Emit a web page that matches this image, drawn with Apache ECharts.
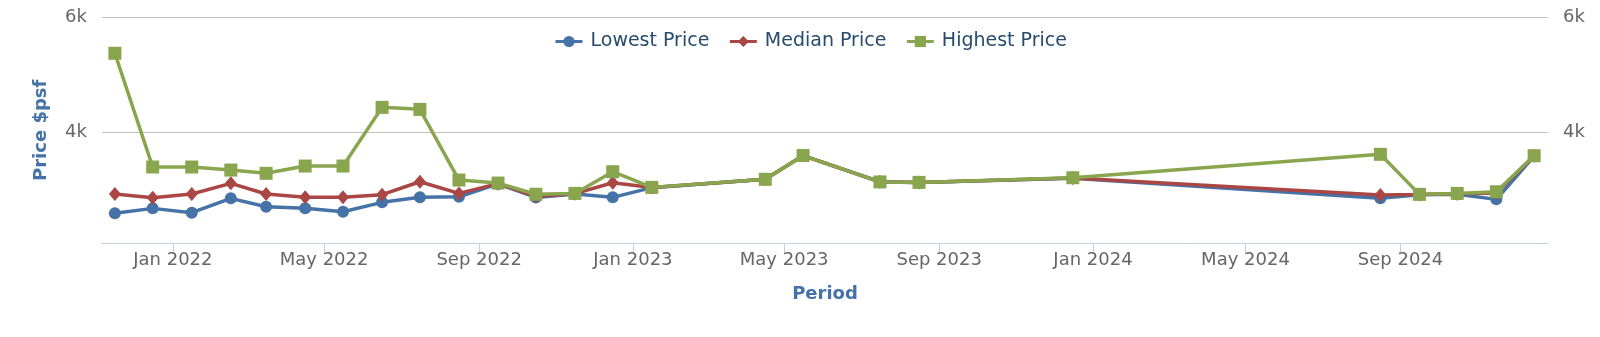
<!DOCTYPE html>
<html>
<head>
<meta charset="utf-8">
<script src="https://cdn.jsdelivr.net/npm/echarts@6/dist/echarts.min.js"></script>
<style>
html,body{margin:0;padding:0;background:#fff;}
#chart{width:1600px;height:337px;}
</style>
</head>
<body>
<div id="chart"></div>
<script>
// ---- data ----
const periods = ['2021-11-16','2021-12-16','2022-01-16','2022-02-16','2022-03-16','2022-04-16','2022-05-16','2022-06-16','2022-07-16','2022-08-16','2022-09-16','2022-10-16','2022-11-16','2022-12-16','2023-01-16','2023-04-16','2023-05-16','2023-07-16','2023-08-16','2023-12-16','2024-08-16','2024-09-16','2024-10-16','2024-11-16','2024-12-16'];
const lowestPrice = [2582,2669,2593,2844,2698,2669,2610,2774,2861,2872,3095,2860,2920,2861,3030,3175,3587,3133,3122,3195,2844,2905,2915,2826,3580];
const medianPrice = [2919,2855,2919,3105,2919,2861,2861,2907,3133,2930,3100,2880,2925,3116,3033,3175,3590,3130,3120,3200,2901,2912,2925,2935,3585];
const highestPrice = [5373,3390,3390,3337,3280,3407,3407,4430,4395,3163,3110,2915,2930,3308,3035,3175,3590,3130,3122,3203,3611,2913,2930,2959,3587];
const xTickDates = ['2022-01-01','2022-05-01','2022-09-01','2023-01-01','2023-05-01','2023-09-01','2024-01-01','2024-05-01','2024-09-01'];
const yTickValues = [4000, 6000];
const seriesNames = ['Lowest Price','Median Price','Highest Price'];
const monthNames = ['Jan','Feb','Mar','Apr','May','Jun','Jul','Aug','Sep','Oct','Nov','Dec'];

function ts(s){ const p = s.split('-').map(Number); return Date.UTC(p[0], p[1]-1, p[2]); }
function pairs(vals){ return periods.map((d,i)=>[ts(d), vals[i]]); }

const FONT = 'DejaVu Sans';
const chart = echarts.init(document.getElementById('chart'), null, {renderer:'canvas'});
const xMin = Date.UTC(2021,10,5,19);
const xMax = Date.UTC(2024,11,27);

const yAxisBase = {
  type:'value', min:2060, max:6000,
  axisLine:{show:false},
  axisTick:{show:false, customValues:yTickValues},
  axisLabel:{customValues:yTickValues, color:'#666', fontFamily:FONT, fontSize:18, margin:15,
    formatter:v=>(v/1000)+'k'}
};

chart.setOption({
  animation:false,
  color:['#4572A7','#AA4643','#89A54E'],
  textStyle:{fontFamily:FONT},
  grid:{left:102, right:52, top:17.3, bottom:93.7, containLabel:false},
  legend:{
    data:seriesNames, left:554, top:32, padding:0,
    itemWidth:27, itemHeight:14, itemGap:19,
    lineStyle:{width:3},
    textStyle:{color:'#274b6d', fontFamily:FONT, fontSize:19, padding:[0,0,0,3]}
  },
  xAxis:{
    type:'value', min:xMin, max:xMax, scale:true,
    name:'Period', nameLocation:'middle', nameGap:42,
    nameTextStyle:{color:'#4572A7', fontWeight:'bold', fontFamily:FONT, fontSize:18},
    axisLine:{show:true, onZero:false, lineStyle:{color:'#C0D0E0', width:1}},
    axisTick:{show:true, length:9, lineStyle:{color:'#C0D0E0'}, customValues:xTickDates.map(ts)},
    axisLabel:{customValues:xTickDates.map(ts), color:'#666', fontFamily:FONT, fontSize:18, margin:8,
      formatter:v=>{const d=new Date(v); return monthNames[d.getUTCMonth()]+' '+d.getUTCFullYear();}},
    splitLine:{show:false}
  },
  yAxis:[
    Object.assign({}, yAxisBase, {
      position:'left',
      name:'Price $psf', nameLocation:'middle', nameGap:52, nameRotate:90,
      nameTextStyle:{color:'#4572A7', fontWeight:'bold', fontFamily:FONT, fontSize:18},
      splitLine:{show:true, lineStyle:{color:'#C0C0C0', width:1}}
    }),
    Object.assign({}, yAxisBase, {position:'right', splitLine:{show:false}})
  ],
  series:[
    {name:seriesNames[0], type:'line', data:pairs(lowestPrice), symbol:'circle', symbolSize:12, lineStyle:{width:3.5}},
    {name:seriesNames[1], type:'line', data:pairs(medianPrice), symbol:'diamond', symbolSize:[12,14], lineStyle:{width:3.5}},
    {name:seriesNames[2], type:'line', data:pairs(highestPrice), symbol:'rect', symbolSize:13, lineStyle:{width:3.5}}
  ]
});
</script>
</body>
</html>
